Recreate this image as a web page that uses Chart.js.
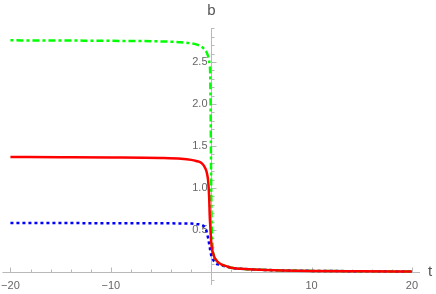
<!DOCTYPE html>
<html lang="en">
<head>
  <meta charset="UTF-8">
  <title>b vs t</title>
  <script src="https://cdn.jsdelivr.net/npm/chart.js"></script>
  <style>
    html, body { margin: 0; padding: 0; background: #fff; }
    #wrap { width: 436px; height: 294px; }
  </style>
</head>
<body>
  <div id="wrap"><canvas id="bChart"></canvas></div>

  <script>
    // sample times
    const tValues = [-20, -15, -10, -5, -3, -2, -1.5, -1, -0.7, -0.5, -0.4, -0.3, -0.2, -0.15, -0.1, -0.05,
                     0, 0.05, 0.1, 0.2, 0.3, 0.5, 0.7, 1, 1.5, 2, 3, 5, 7, 10, 15, 20];

    // curves
    const bRed = [1.369, 1.367, 1.364, 1.357, 1.348, 1.335, 1.322, 1.30, 1.26, 1.21, 1.16, 1.08, 0.88, 0.68, 0.56, 0.46,
                  0.36, 0.30, 0.26, 0.22, 0.18, 0.14, 0.115, 0.09, 0.07, 0.05, 0.038, 0.026, 0.019, 0.013, 0.009, 0.006];
    const bGreen = [2.758, 2.756, 2.752, 2.745, 2.735, 2.722, 2.71, 2.685, 2.655, 2.625, 2.60, 2.565, 2.51, 2.46, 2.36, 1.80,
                    1.0, 0.55, 0.38, 0.24, 0.18, 0.14, 0.115, 0.09, 0.07, 0.05, 0.038, 0.026, 0.019, 0.013, 0.009, 0.006];
    const bBlue = [0.582, 0.582, 0.581, 0.58, 0.578, 0.576, 0.57, 0.562, 0.54, 0.50, 0.45, 0.40, 0.33, 0.30, 0.26, 0.23,
                   0.20, 0.18, 0.165, 0.145, 0.125, 0.10, 0.09, 0.078, 0.066, 0.05, 0.038, 0.026, 0.019, 0.013, 0.009, 0.006];

    // axis ticks
    const xMajorTicks = [-20, -10, 10, 20];
    const xTickLabels = ['\u221220', '\u221210', '10', '20'];
    const yMajorTicks = [0.5, 1.0, 1.5, 2.0, 2.5];
    const yTickLabels = ['0.5', '1.0', '1.5', '2.0', '2.5'];

    const toPoints = ys => tValues.map((t, i) => ({ x: t, y: ys[i] }));

    const axisColor = '#b9b9b9';
    const labelColor = '#666666';

    // Mathematica style axes crossing at the origin, drawn under the curves
    const originAxes = {
      id: 'originAxes',
      beforeDatasetsDraw(chart) {
        const { ctx, chartArea, scales } = chart;
        const xs = scales.x, ys = scales.y;
        const y0 = Math.round(ys.getPixelForValue(0)) + 0.5;
        const x0 = Math.round(xs.getPixelForValue(0)) + 0.5;
        ctx.save();
        ctx.strokeStyle = axisColor;
        ctx.lineWidth = 1;

        ctx.beginPath();
        ctx.moveTo(chartArea.left, y0);
        ctx.lineTo(chartArea.right, y0);
        ctx.moveTo(x0, chartArea.top);
        ctx.lineTo(x0, chartArea.bottom);

        // x ticks (minor every 2)
        for (let t = -20; t <= 20; t += 2) {
          if (t === 0) continue;
          const px = Math.round(xs.getPixelForValue(t)) + 0.5;
          const len = xMajorTicks.includes(t) ? 5 : 3;
          ctx.moveTo(px, y0);
          ctx.lineTo(px, y0 - len);
        }
        // y ticks (minor every 0.1)
        for (let k = -1; k <= 29; k++) {
          if (k === 0) continue;
          const v = k / 10;
          const py = Math.round(ys.getPixelForValue(v)) + 0.5;
          const len = k % 5 === 0 ? 5 : 3;
          ctx.moveTo(x0, py);
          ctx.lineTo(x0 + len, py);
        }
        ctx.stroke();

        ctx.fillStyle = labelColor;
        ctx.font = '11px "Liberation Sans", Arial, sans-serif';
        ctx.textAlign = 'center';
        ctx.textBaseline = 'alphabetic';
        xMajorTicks.forEach((t, i) => {
          ctx.fillText(xTickLabels[i], xs.getPixelForValue(t), 289);
        });
        ctx.textAlign = 'right';
        ctx.textBaseline = 'middle';
        yMajorTicks.forEach((v, i) => {
          ctx.fillText(yTickLabels[i], x0 - 4, ys.getPixelForValue(v));
        });

        // axis names
        ctx.fillStyle = '#555555';
        ctx.font = '15px "Liberation Sans", Arial, sans-serif';
        ctx.textAlign = 'center';
        ctx.textBaseline = 'middle';
        ctx.fillText('b', x0, 11);
        ctx.fillText('t', 430, y0 - 1);
        ctx.restore();
      }
    };

    const ctx = document.getElementById('bChart').getContext('2d');
    new Chart(ctx, {
      type: 'line',
      data: {
        datasets: [
          {
            label: 'red',
            data: toPoints(bRed),
            borderColor: '#ff0000',
            borderWidth: 2.5
          },
          {
            label: 'green',
            data: toPoints(bGreen),
            borderColor: '#00ff00',
            borderWidth: 2.5,
            borderDash: [3, 3, 7, 3]
          },
          {
            label: 'blue',
            data: toPoints(bBlue),
            borderColor: '#0000ff',
            borderWidth: 2.5,
            borderDash: [3, 3]
          }
        ]
      },
      options: {
        responsive: true,
        maintainAspectRatio: false,
        animation: false,
        layout: { padding: { left: 2.4, right: 16, top: 28, bottom: 9 } },
        elements: {
          point: { radius: 0 },
          line: { cubicInterpolationMode: 'monotone', fill: false }
        },
        plugins: {
          legend: { display: false },
          tooltip: { enabled: false }
        },
        scales: {
          x: { type: 'linear', min: -20.8, max: 20.8, display: false },
          y: { type: 'linear', min: -0.155, max: 2.905, display: false }
        }
      },
      plugins: [originAxes]
    });
  </script>
</body>
</html>
